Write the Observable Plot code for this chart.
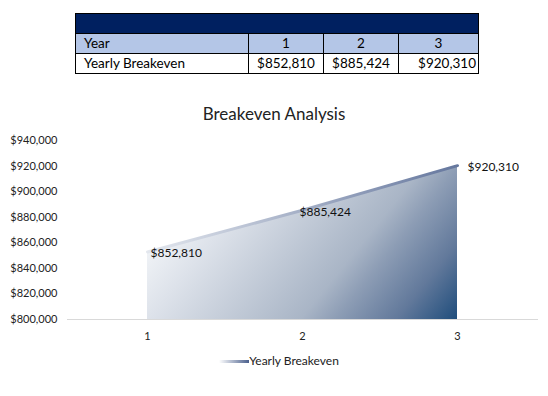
<!DOCTYPE html>
<html><head><meta charset="utf-8">
<script src="https://cdn.jsdelivr.net/npm/d3@7"></script>
<script src="https://cdn.jsdelivr.net/npm/@observablehq/plot@0.6"></script>
<style>
body{margin:0;background:#fff;width:548px;height:396px;overflow:hidden;font-family:Lato,"Open Sans",sans-serif;}
#tbl{position:absolute;left:75px;top:13px;border-collapse:collapse;font-size:13.5px;color:#000;table-layout:fixed;}
#tbl td{border:1px solid #000;padding:0 2px;height:19px;line-height:19px;white-space:nowrap;}
#title{position:absolute;left:0;top:103px;width:548px;text-align:center;font-size:17px;color:#222;}
#chart{position:absolute;left:0;top:130px;}
#legend{position:absolute;left:0;top:353px;width:548px;text-align:center;font-size:12px;color:#222;box-sizing:border-box;padding-left:10px;}
#legend span.sw{display:inline-block;width:30px;height:3px;vertical-align:middle;background:linear-gradient(90deg,#ffffff,#4a5f8c);}
</style></head>
<body>
<table id="tbl"></table>
<div id="title">Breakeven Analysis</div>
<div id="chart"></div>
<div id="legend"><span class="sw"></span><span id="legtext"></span></div>
<script>
const years = [1, 2, 3];
const breakeven = [852810, 885424, 920310];
const seriesName = "Yearly Breakeven";
const yTicks = [800000, 820000, 840000, 860000, 880000, 900000, 920000, 940000];
const tableTitle = "Year";

const money = d => "$" + d3.format(",")(d);

// Table
const tbl = d3.select("#tbl");
const r0 = tbl.append("tr").style("background", "#002060").style("height", "20px");
r0.append("td").attr("colspan", 4).html("&nbsp;");
const r1 = tbl.append("tr").style("background", "#b4c6e7");
r1.append("td").style("width", "162px").style("padding-left", "8px").text(tableTitle);
years.forEach((y, i) => r1.append("td").style("width", i === 2 ? "75px" : "70px").style("text-align", "center").text(y));
const r2 = tbl.append("tr");
r2.append("td").style("padding-left", "8px").text(seriesName);
breakeven.forEach((v, i) => r2.append("td").style("text-align", i === 2 ? "right" : "center").text(money(v)));

d3.select("#legtext").text(seriesName);

const data = years.map((y, i) => ({year: y, value: breakeven[i]}));

const defs = () => {
  const g = d3.create("svg:defs");
  const a = g.append("linearGradient").attr("id", "areaGrad")
    .attr("x1", "0").attr("y1", "0").attr("x2", "1.207").attr("y2", "0.483");
  [[0, "#ffffff"], [0.17, "#eef1f5"], [0.29, "#dde2ea"], [0.64, "#a9b5c6"], [0.72, "#8d9db5"], [0.86, "#62799b"], [1, "#1f4d7c"]]
    .forEach(([o, c]) => a.append("stop").attr("offset", o).attr("stop-color", c));
  const l = g.append("linearGradient").attr("id", "lineGrad")
    .attr("x1", "0").attr("y1", "0").attr("x2", "1").attr("y2", "0");
  l.append("stop").attr("offset", "0").attr("stop-color", "#e3e7ee");
  l.append("stop").attr("offset", "1").attr("stop-color", "#65779e");
  return g.node();
};

const chart = Plot.plot({
  width: 548,
  height: 220,
  marginLeft: 67,
  marginRight: 10,
  marginTop: 10,
  marginBottom: 31,
  style: {fontFamily: "Lato, 'Open Sans', sans-serif", fontSize: "11px", color: "#222", background: "transparent"},
  x: {type: "linear", domain: [0.5, 3.5], range: [69.5, 534.5]},
  y: {domain: [800000, 940000]},
  marks: [
    defs,
    Plot.areaY(data, {x: "year", y1: 800000, y2: "value", fill: "url(#areaGrad)"}),
    Plot.lineY(data, {x: "year", y: "value", stroke: "url(#lineGrad)", strokeWidth: 3}),
    Plot.ruleY([800000], {stroke: "#d9d9d9"}),
    Plot.axisY({ticks: yTicks, tickSize: 0, tickPadding: 10, tickFormat: money, label: null, fontSize: 11}),
    Plot.axisX({ticks: years, tickSize: 0, tickPadding: 13, tickFormat: d3.format("d"), label: null, fontSize: 11}),
    Plot.text(data.slice(0, 1), {x: "year", y: "value", text: d => money(d.value), textAnchor: "start", dx: 3, dy: 1, fill: "#111", fontSize: 12}),
    Plot.text(data.slice(1, 2), {x: "year", y: "value", text: d => money(d.value), textAnchor: "start", dx: -3, dy: 2, fill: "#111", fontSize: 12}),
    Plot.text(data.slice(2, 3), {x: "year", y: "value", text: d => money(d.value), textAnchor: "start", dx: 10, dy: 1, fill: "#111", fontSize: 12})
  ]
});
document.getElementById("chart").appendChild(chart);
</script>
</body></html>
